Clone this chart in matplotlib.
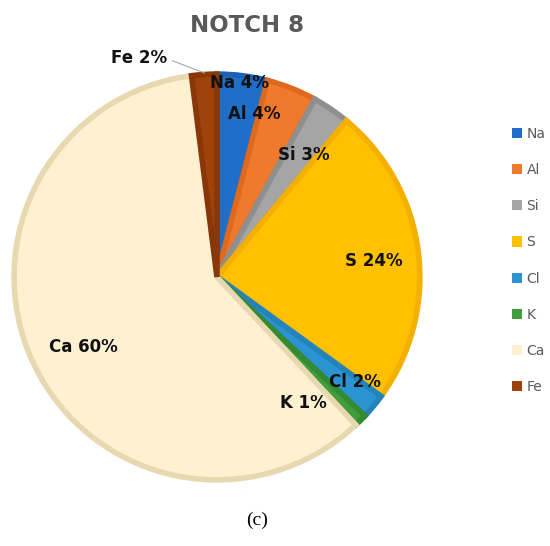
import matplotlib.pyplot as plt

# =========================
# Data
# =========================
elements = ["Na", "Al", "Si", "S", "Cl", "K", "Ca", "Fe"]
percents = [4, 4, 3, 24, 2, 1, 60, 2]

fill_colors = ["#1f6fc8", "#f07a2c", "#a5a5a5", "#ffc000",
               "#2b93d1", "#3f9e3b", "#fdf1d2", "#a0420c"]
edge_colors = ["#1a62b2", "#df6a1f", "#8f8f8f", "#f3b000",
               "#2483bb", "#348a31", "#e8d8b0", "#8a3708"]

# label positions (in axes data units, radius = 1)
label_pos = {
    "Na": (0.11, 0.94), "Al": (0.18, 0.79), "Si": (0.42, 0.59),
    "S": (0.76, 0.08), "Cl": (0.67, -0.51), "K": (0.42, -0.61),
    "Ca": (-0.65, -0.34),
}

FONT = ["DejaVu Sans"]

# =========================
# Plot
# =========================
fig = plt.figure(figsize=(5.5, 5.46), dpi=100)
ax = fig.add_axes([0.02, 0.1154, 0.749, 0.7546])

wedges, _ = ax.pie(percents,
                   colors=fill_colors,
                   startangle=90,
                   counterclock=False,
                   radius=0.985,
                   wedgeprops=dict(linewidth=4.0))
for w, ec in zip(wedges, edge_colors):
    w.set_edgecolor(ec)
    w.set_joinstyle("miter")

ax.set_xlim(-1, 1)
ax.set_ylim(-1, 1)
ax.set_aspect("equal")
ax.axis("off")

lab_font = dict(fontsize=12, fontweight="bold", color="#111111", family=FONT)
for name, pct in zip(elements, percents):
    if name in label_pos:
        x, y = label_pos[name]
        ax.text(x, y, f"{name} {pct}%", ha="center", va="center", **lab_font)

# Fe label with leader line
ax.annotate(f"Fe {percents[-1]}%",
            xy=(-0.06, 0.99), xytext=(-0.38, 1.065),
            ha="center", va="center",
            arrowprops=dict(arrowstyle="-", color="#a6a6a6", lw=0.8,
                            shrinkA=2, shrinkB=0, relpos=(1, 0.45)),
            **lab_font)

# Title
fig.text(0.45, 0.954, "NOTCH 8", ha="center", va="center",
         fontsize=16.5, fontweight="bold", color="#595959", family=FONT)

# Legend
leg = fig.legend(wedges, elements,
                 loc="center left", bbox_to_anchor=(0.918, 0.523),
                 frameon=False, fontsize=10,
                 labelspacing=1.6, handlelength=0.75, handleheight=0.75,
                 handletextpad=0.3, borderpad=0)
for t in leg.get_texts():
    t.set_color("#595959")
    t.set_family(FONT)
for h, fc in zip(leg.legend_handles, fill_colors):
    h.set_edgecolor(fc)
    h.set_linewidth(0)

# Caption
fig.text(0.467, 0.047, "(c)", ha="center", va="center",
         fontsize=14, color="black", family="Liberation Serif")

plt.savefig("out.png", dpi=100)
